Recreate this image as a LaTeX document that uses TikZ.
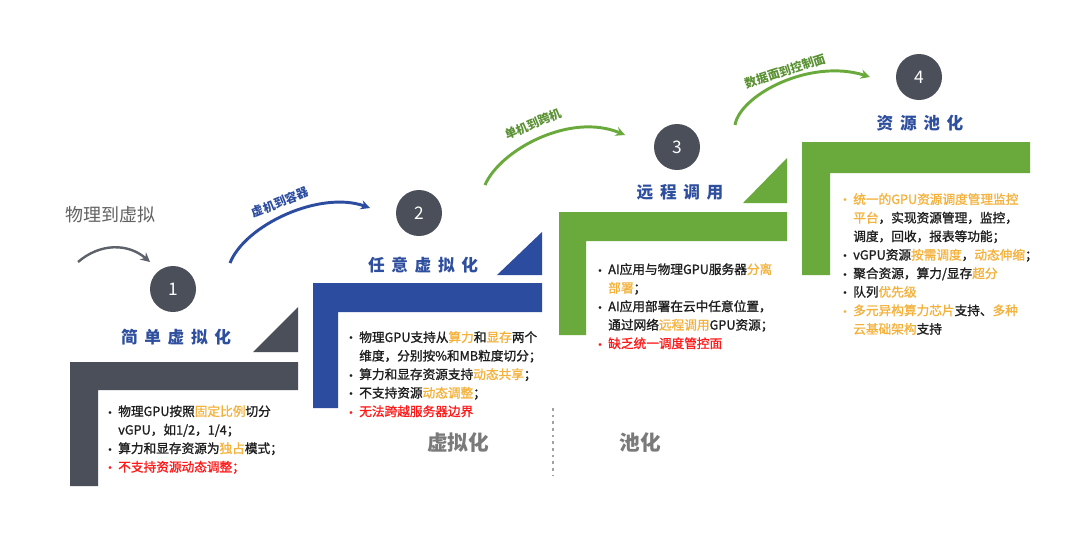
\documentclass[tikz,border=0pt]{standalone}
\usepackage{fontspec}
\setmainfont{Noto Sans CJK SC}
\newfontfamily\titlefont[LetterSpace=40]{Noto Sans CJK SC}
\newfontfamily\bodyfont[FakeBold=1.2]{Noto Sans CJK SC}
\newfontfamily\symfont{DejaVu Sans}
\usetikzlibrary{arrows.meta}
\definecolor{cgray}{HTML}{4A4F59}
\definecolor{cblue}{HTML}{2B4C9F}
\definecolor{cgreen}{HTML}{6AAA3C}
\definecolor{ctitle}{HTML}{2E4E9E}
\definecolor{corange}{HTML}{F4B23C}
\definecolor{cred}{HTML}{FF1A1A}
\definecolor{ctext}{HTML}{1E1E1E}
\definecolor{clabel}{HTML}{7A7A7A}
\newcommand{\mybul}{\makebox[8.25pt][l]{{\symfont\fontsize{7}{7}\selectfont •}}}
\newcommand{\myind}{\hspace*{8.25pt}}
\newcommand{\hlo}[1]{\textcolor{corange}{#1}}
\begin{document}
\begin{tikzpicture}[x=0.75pt,y=-0.75pt,
  body/.style={anchor=north west, inner sep=0pt, align=left, text=ctext,
    font=\bodyfont\fontsize{9.5}{13.9}\selectfont},
  stepnum/.style={circle, fill=cgray, minimum size=46*0.75pt, inner sep=0pt,
    text=white, font=\fontsize{13}{13}\selectfont},
  steptitle/.style={text=ctitle, inner sep=0pt, font=\titlefont\bfseries\fontsize{12.5}{13}\selectfont},
  phase/.style={text=clabel, inner sep=0pt, font=\bfseries\fontsize{15.5}{16}\selectfont},
  arclabel/.style={inner sep=0pt, font=\bfseries\fontsize{9}{9}\selectfont},
  flow/.style={line width=2.2pt, -{Stealth[length=7pt,width=7pt]}}
]
\useasboundingbox[fill=white] (0,0) rectangle (1080,547);

% ---------- step shapes ----------
\fill[cgray] (70,362) -- (298,362) -- (298,390) -- (98,390) -- (98,486) -- (70,486) -- cycle;
\fill[cgray] (298,307) -- (298,352) -- (253,352) -- cycle;

\fill[cblue] (313,283) -- (542,283) -- (542,312) -- (338,312) -- (338,408) -- (313,408) -- cycle;
\fill[cblue] (542,232) -- (542,275) -- (497,275) -- cycle;

\fill[cgreen] (559,212) -- (787,212) -- (787,241) -- (586,241) -- (586,335) -- (559,335) -- cycle;
\fill[cgreen] (787,158) -- (787,203) -- (743,203) -- cycle;

\fill[cgreen] (802,142) -- (1030,142) -- (1030,173) -- (830,173) -- (830,275) -- (802,275) -- cycle;

% ---------- numbers and titles ----------
\node[stepnum] (n1) at (173,289) {1};
\node[stepnum] (n2) at (419,213) {2};
\node[stepnum] (n3) at (677,147) {3};
\node[stepnum] (n4) at (919,77) {4};

\node[steptitle] (s1) at (176,337) {简单虚拟化};
\node[steptitle] (s2) at (423,265) {任意虚拟化};
\node[steptitle] (s3) at (680,192) {远程调用};
\node[steptitle] (s4) at (920,123) {资源池化};

% ---------- descriptions ----------
\node[body] (t1) at (107,405) {%
\mybul 物理GPU按照\hlo{固定比例}切分\\
\myind vGPU，如1/2，1/4；\\
\mybul 算力和显存资源为\hlo{独占}模式；\\
\textcolor{cred}{\mybul 不支持资源动态调整；}};

\node[body] (t2) at (348,331) {%
\mybul 物理GPU支持从\hlo{算力}和\hlo{显存}两个\\
\myind 维度，分别按\%和MB粒度切分；\\
\mybul 算力和显存资源支持\hlo{动态共享}；\\
\mybul 不支持资源\hlo{动态调整}；\\
\textcolor{cred}{\mybul 无法跨越服务器边界}};

\node[body] (t3) at (597,263) {%
\mybul AI应用与物理GPU服务器\hlo{分离}\\
\myind \hlo{部署}；\\
\mybul AI应用部署在云中任意位置，\\
\myind 通过网络\hlo{远程调用}GPU资源；\\
\textcolor{cred}{\mybul 缺乏统一调度管控面}};

\node[body] (t4) at (842,193) {%
\textcolor{corange}{\mybul 统一的GPU资源调度管理监控}\\
\myind \hlo{平台}，实现资源管理，监控，\\
\myind 调度，回收，报表等功能；\\
\mybul vGPU资源\hlo{按需调度}，\hlo{动态伸缩}；\\
\mybul 聚合资源，算力/显存\hlo{超分}\\
\mybul 队列\hlo{优先级}\\
\textcolor{corange}{\mybul 多元异构算力芯片}支持、\hlo{多种}\\
\myind \hlo{云基础架构}支持};

% ---------- phase labels ----------
\coordinate (dtop) at (553,408);
\coordinate (dbot) at (553,475);
\draw[clabel!70, line width=0.9pt, dash pattern=on 2pt off 3pt] (dtop) -- (dbot);
\node[phase] (p1) at (458,443) {虚拟化};
\node[phase] (p2) at (640,443) {池化};

% ---------- transition arrows ----------
\node[text=clabel!80!black, inner sep=0pt, font=\fontsize{13.5}{14}\selectfont] (l0) at (110,215) {物理到虚拟};
\coordinate (a0s) at (78,262);
\coordinate (a0e) at (150,262);
\draw[flow, line width=1.8pt, cgray!90] (a0s) .. controls (100,243) and (128,243) .. (a0e);

\coordinate (a1s) at (230,263);
\coordinate (a1e) at (370,208);
\draw[flow, cblue] (a1s) .. controls (245,225) and (320,190) .. (a1e);
\node[arclabel, text=cblue, rotate=22] (l1) at (280,202) {虚机到容器};

\coordinate (a2s) at (485,185);
\coordinate (a2e) at (625,135);
\draw[flow, cgreen] (a2s) .. controls (500,150) and (570,112) .. (a2e);
\node[arclabel, text=cgreen!85!black, rotate=23] (l2) at (533,124) {单机到跨机};

\coordinate (a3s) at (735,125);
\coordinate (a3e) at (870,77);
\draw[flow, cgreen] (a3s) .. controls (740,95) and (810,58) .. (a3e);
\node[arclabel, text=cgreen!85!black, rotate=18] (l3) at (785,71) {数据面到控制面};
\end{tikzpicture}
\end{document}
